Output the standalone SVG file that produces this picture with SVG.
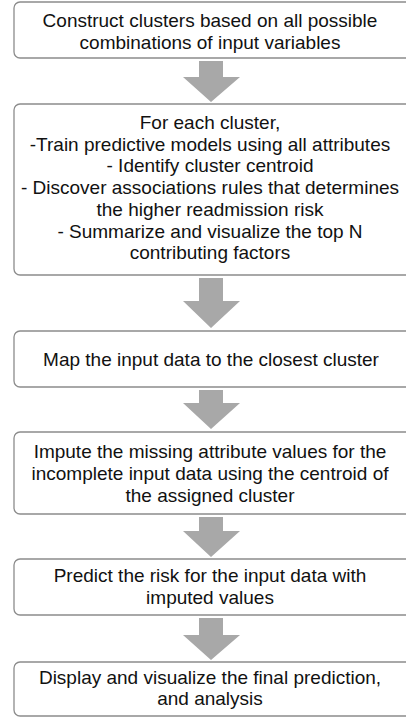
<svg xmlns="http://www.w3.org/2000/svg" width="406" height="717" viewBox="0 0 406 717">
<style>
.box{fill:#fff;stroke:#8c8c8c;stroke-width:1.3}
.t{font-family:"Liberation Sans",Arial,Helvetica,sans-serif;font-size:19px;fill:#111;text-anchor:middle}
.arr{fill:#a8a8a8}
</style>
<rect width="406" height="717" fill="#fff"/>
<g id="connectors">
<polygon class="arr" points="199,61 223,61 223,77 240,77 211,102 183,77 199,77"/>
<polygon class="arr" points="199,278 223,278 223,301 240,301 211,328 183,301 199,301"/>
<polygon class="arr" points="199,390 223,390 223,403 240,403 211,429 183,403 199,403"/>
<polygon class="arr" points="199,517 223,517 223,531 240,531 211,557 183,531 199,531"/>
<polygon class="arr" points="199,618 223,618 223,635 240,635 211,660 183,635 199,635"/>
</g>
<g id="n1">
<rect class="box" x="14" y="2" width="400" height="56" rx="6"/>
<text class="t" x="210" y="27">Construct clusters based on all possible</text>
<text class="t" x="210" y="49">combinations of input variables</text>
</g>
<g id="n2">
<rect class="box" x="14" y="104" width="400" height="171" rx="6"/>
<text class="t" x="210" y="129">For each cluster,</text>
<text class="t" x="210" y="151">-Train predictive models using all attributes</text>
<text class="t" x="210" y="172">- Identify cluster centroid</text>
<text class="t" x="210" y="194">- Discover associations rules that determines</text>
<text class="t" x="210" y="216">the higher readmission risk</text>
<text class="t" x="210" y="238">- Summarize and visualize the top N</text>
<text class="t" x="210" y="259">contributing factors</text>
</g>
<g id="n3">
<rect class="box" x="14" y="331" width="400" height="56" rx="6"/>
<text class="t" x="211" y="366">Map the input data to the closest cluster</text>
</g>
<g id="n4">
<rect class="box" x="14" y="432" width="400" height="82" rx="6"/>
<text class="t" x="210" y="458">Impute the missing attribute values for the</text>
<text class="t" x="210" y="480">incomplete input data using the centroid of</text>
<text class="t" x="210" y="502">the assigned cluster</text>
</g>
<g id="n5">
<rect class="box" x="14" y="559" width="400" height="56" rx="6"/>
<text class="t" x="210" y="582">Predict the risk for the input data with</text>
<text class="t" x="210" y="604">imputed values</text>
</g>
<g id="n6">
<rect class="box" x="14" y="662" width="400" height="54" rx="6"/>
<text class="t" x="210" y="684">Display and visualize the final prediction,</text>
<text class="t" x="210" y="705">and analysis</text>
</g>
</svg>
